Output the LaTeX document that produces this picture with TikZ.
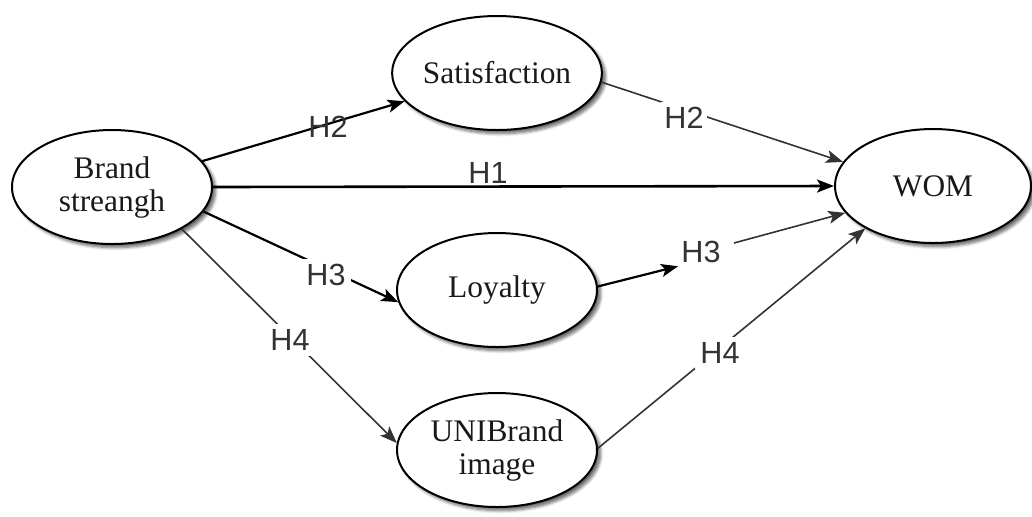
\documentclass[tikz,border=0pt]{standalone}
\usepackage{fontspec}
\setmainfont{Liberation Serif}
\newfontfamily\hypfont{Liberation Sans}
\usetikzlibrary{shapes.geometric,arrows.meta,shadows.blur}

\begin{document}
\begin{tikzpicture}[x=0.5pt,y=-0.5pt,
  construct/.style={ellipse, draw=black, line width=1pt, fill=white,
    minimum width=100pt, minimum height=57pt, inner sep=0pt, align=center,
    font=\fontsize{15.7}{16.5}\selectfont, text=black!90,
    blur shadow={shadow xshift=1.8pt, shadow yshift=-1.8pt,
      shadow blur steps=6, shadow blur radius=1.5pt, shadow opacity=60}},
  hyp/.style={font=\hypfont\fontsize{15.3}{16}\selectfont, text=black!80, inner sep=1.5pt},
  gap/.style={hyp, fill=white, inner sep=2.5pt},
  tip/.style={-{Stealth[length=8.5pt,width=6.5pt,inset=2pt]}},
  strong/.style={tip, line width=1.1pt, draw=black},
  weak/.style={tip, line width=0.8pt, draw=black!80},
]
\useasboundingbox (0,0) rectangle (1032,516);

% constructs
\node[construct] (brand) at (112,187) {Brand\\streangh};
\node[construct] (sat)   at (497,73)  {Satisfaction};
\node[construct] (loy)   at (497,290) {Loyalty};
\node[construct] (uni)   at (497,450) {UNIBrand\\image};
\node[construct, minimum width=98pt] (wom) at (933,186) {WOM};

% label that splits the loyalty path
\node[hyp] (h3b) at (701,252) {H3};

% hypothesised paths
\draw[strong] (brand.16) -- (sat.197);
\draw[weak]   (sat.-5) -- (wom.165);
\draw[strong, line width=1.3pt] (brand.east) -- (wom.west);
\draw[strong] (brand.-15) -- (loy.187);
\draw[weak]   (brand.-31) -- (uni.176);
\draw[strong] (loy.2) -- (h3b.south west);
\draw[weak]   ([xshift=5pt,yshift=4.5pt]h3b.east) -- (wom.197);
\draw[weak]   (uni.1) -- (wom.212);

% path labels
\node[hyp] (h2a) at (328,127) {H2};
\node[gap, inner xsep=1.5pt] (h2b) at (684,118) {H2};
\node[hyp] (h1)  at (488,173) {H1};
\node[gap] (h3a) at (326,275) {H3};
\node[gap] (h4a) at (290,340) {H4};
\node[gap] (h4b) at (720,353) {H4};
\end{tikzpicture}
\end{document}
